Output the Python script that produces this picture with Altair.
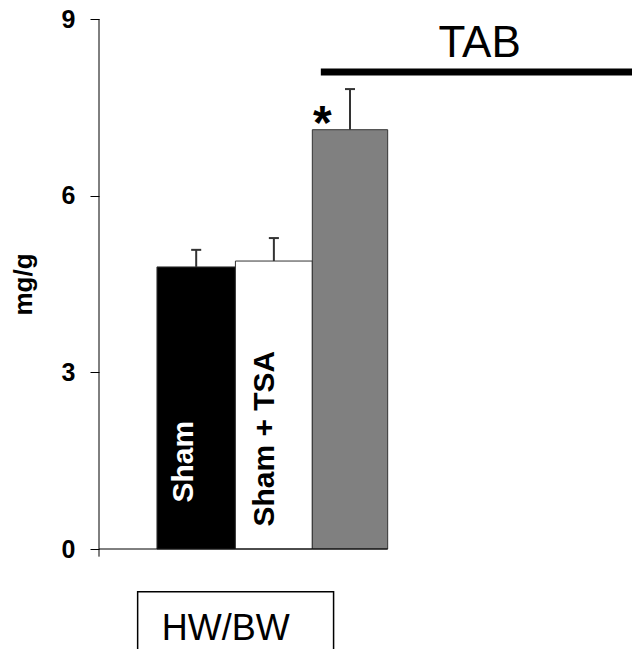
import altair as alt
import pandas as pd

# ---- data ----
groups = ["Sham", "Sham + TSA", "TAB"]
means = [4.79, 4.89, 7.12]
sems = [0.29, 0.39, 0.69]
fills = ["#000000", "#ffffff", "#808080"]
bar_left = [0.75, 1.765, 2.76]
bar_right = [1.765, 2.76, 3.735]
label_texts = ["Sham", "Sham + TSA"]
label_colors = ["#ffffff", "#000000"]
label_x = [1.212, 2.27]
label_y = [0.79, 0.38]
y_ticks = [0, 3, 6, 9]
X_MAX = 6.896

FONT = "Liberation Sans"

centers = [(a + b) / 2 for a, b in zip(bar_left, bar_right)]
bars = pd.DataFrame({
    "group": groups, "mean": means, "top": [m + s for m, s in zip(means, sems)],
    "x0": bar_left, "x1": bar_right, "xc": centers, "fill": fills,
    "cap0": [c - 0.065 for c in centers], "cap1": [c + 0.065 for c in centers],
})
labels = pd.DataFrame({"text": label_texts, "color": label_colors, "x": label_x, "y": label_y})

xs = alt.Scale(domain=[0, X_MAX], nice=False, zero=False)
ys = alt.Scale(domain=[0, 9], nice=False, zero=True)

base = alt.Chart(bars)

rect = base.mark_rect(stroke="#333333", strokeWidth=1).encode(
    x=alt.X("x0:Q", scale=xs, axis=None), x2="x1:Q",
    y=alt.Y("mean:Q", scale=ys, axis=alt.Axis(
        values=y_ticks, format="d", title="mg/g", domain=False, grid=False,
        tickSize=9, tickColor="#000000", tickWidth=1,
        labelFont=FONT, labelFontSize=25, labelFontWeight="bold", labelColor="#000000",
        labelPadding=15,
        titleFont=FONT, titleFontSize=26, titleFontWeight="bold", titleColor="#000000",
        titleAngle=270, titleX=-68, titleY=265, titleAlign="center", titleBaseline="alphabetic",
    )),
    y2=alt.datum(0),
    fill=alt.Fill("fill:N", scale=None),
)

err = base.mark_rule(color="#333333", strokeWidth=2).encode(
    x=alt.X("xc:Q", scale=xs), y=alt.Y("mean:Q", scale=ys), y2="top:Q")
cap = base.mark_rule(color="#333333", strokeWidth=2).encode(
    x=alt.X("cap0:Q", scale=xs), x2="cap1:Q", y=alt.Y("top:Q", scale=ys))

# axis lines
yaxis_line = alt.Chart(pd.DataFrame({"a": [0]})).mark_rule(color="#000000", strokeWidth=1).encode(
    x=alt.datum(0, scale=xs), y=alt.datum(-0.13, scale=ys), y2=alt.datum(9))
xaxis_line = alt.Chart(pd.DataFrame({"a": [0]})).mark_rule(color="#000000", strokeWidth=1).encode(
    x=alt.datum(0, scale=xs), x2=alt.datum(bar_right[-1]), y=alt.datum(0, scale=ys))

bar_labels = alt.Chart(labels).mark_text(
    angle=270, align="left", baseline="alphabetic", font=FONT, fontSize=30, fontWeight="bold"
).encode(x=alt.X("x:Q", scale=xs), y=alt.Y("y:Q", scale=ys), text="text:N",
         color=alt.Color("color:N", scale=None))

star = alt.Chart(pd.DataFrame({"t": ["*"], "x": [2.89], "y": [6.97]})).mark_text(
    font=FONT, fontSize=48, fontWeight="bold", align="center", baseline="alphabetic", color="#000000"
).encode(x=alt.X("x:Q", scale=xs), y=alt.Y("y:Q", scale=ys), text="t:N")

tab_line = alt.Chart(pd.DataFrame({"x0": [2.87], "x1": [X_MAX], "y": [8.10]})).mark_rule(
    color="#000000", strokeWidth=7, strokeCap="butt"
).encode(x=alt.X("x0:Q", scale=xs), x2="x1:Q", y=alt.Y("y:Q", scale=ys))

tab_text = alt.Chart(pd.DataFrame({"t": ["TAB"], "x": [4.925], "y": [8.355]})).mark_text(
    font=FONT, fontSize=44, align="center", baseline="alphabetic", color="#000000"
).encode(x=alt.X("x:Q", scale=xs), y=alt.Y("y:Q", scale=ys), text="t:N")

box = alt.Chart(pd.DataFrame({"x0": [0.50], "x1": [3.035], "y0": [-0.725], "y1": [-2.0]})).mark_rect(
    fill="#ffffff", stroke="#000000", strokeWidth=1.5
).encode(x=alt.X("x0:Q", scale=xs), x2="x1:Q", y=alt.Y("y0:Q", scale=ys), y2="y1:Q")

box_text = alt.Chart(pd.DataFrame({"t": ["HW/BW"], "x": [1.64], "y": [-1.54]})).mark_text(
    font=FONT, fontSize=36, align="center", baseline="alphabetic", color="#000000"
).encode(x=alt.X("x:Q", scale=xs), y=alt.Y("y:Q", scale=ys), text="t:N")

chart = alt.layer(
    rect, err, cap, yaxis_line, xaxis_line, bar_labels, star, tab_line, tab_text, box, box_text
).properties(
    width=533, height=530,
    autosize=alt.AutoSizeParams(type="none"),
    padding={"left": 91, "top": 11, "right": 0, "bottom": 100},
    background="#ffffff",
).configure_view(stroke=None)

chart.save("out.html", embed_options={"renderer": "svg", "actions": False})
